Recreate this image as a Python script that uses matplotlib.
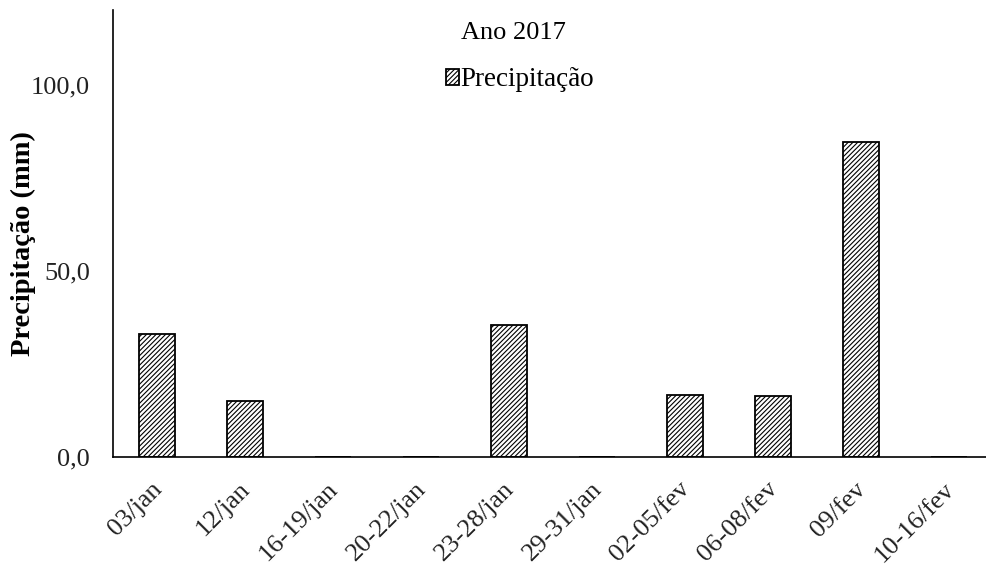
import matplotlib.pyplot as plt
import matplotlib.transforms as mtransforms
from matplotlib.ticker import FuncFormatter

# Datos
periodos = ['03/jan', '12/jan', '16-19/jan', '20-22/jan', '23-28/jan',
            '29-31/jan', '02-05/fev', '06-08/fev', '09/fev', '10-16/fev']
precipitacao = [33.0, 15.0, 0, 0, 35.4, 0, 16.6, 16.4, 84.5, 0]

plt.rcParams['font.family'] = ['Liberation Serif', 'DejaVu Serif']
plt.rcParams['hatch.linewidth'] = 0.8

fig = plt.figure(figsize=(9.86, 5.65), dpi=100)
ax = fig.add_axes([113 / 986, 108 / 565, 880 / 986, 447 / 565])

x = range(len(periodos))
ax.bar(x, precipitacao, width=0.41, color='white', edgecolor='black',
       linewidth=1.3, hatch='///////', label='Precipitação')

ax.set_xlim(-0.5, len(periodos) - 0.5)
ax.set_ylim(0, 120)
ax.set_yticks([0, 50, 100])
ax.yaxis.set_major_formatter(FuncFormatter(lambda v, p: f'{v:.1f}'.replace('.', ',')))
ax.set_xticks(list(x))
ax.set_xticklabels(periodos, rotation=45, ha='right', rotation_mode='anchor')
ax.tick_params(axis='both', length=0, colors='#222222')
ax.tick_params(axis='x', labelsize=19, pad=15)
ax.tick_params(axis='y', labelsize=19, pad=16.5)

# mover un poco las etiquetas del eje x hacia la izquierda
desplazamiento = mtransforms.ScaledTranslation(-6 / 100, 0, fig.dpi_scale_trans)
for etiqueta in ax.get_xticklabels():
    etiqueta.set_transform(etiqueta.get_transform() + desplazamiento)

ax.spines['top'].set_visible(False)
ax.spines['right'].set_visible(False)
ax.spines['left'].set_linewidth(1.2)
ax.spines['bottom'].set_linewidth(1.2)

fig.text(23 / 986, 1 - 244 / 565, 'Precipitação (mm)', rotation=90,
         ha='center', va='center', fontsize=20.5, fontweight='bold')

fig.text(513 / 986, 1 - 33 / 565, 'Ano 2017', ha='center', va='center', fontsize=19)
ax.legend(loc='center', bbox_to_anchor=(520 / 986, 1 - 80 / 565),
          bbox_transform=fig.transFigure, frameon=False, fontsize=19.5,
          handlelength=0.5, handleheight=0.5, handletextpad=0.05,
          borderpad=0, borderaxespad=0)

fig.savefig('out.png', dpi=100)
